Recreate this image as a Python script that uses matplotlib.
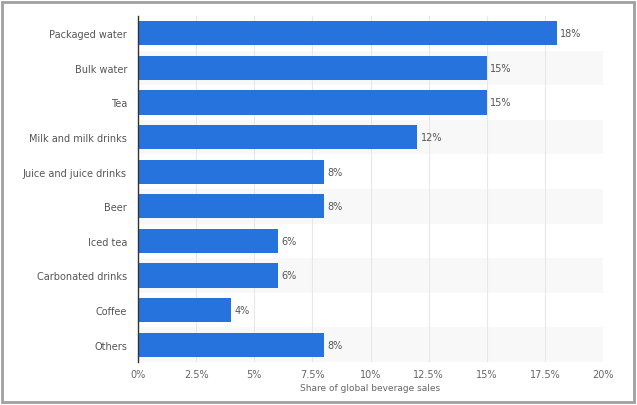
import matplotlib
matplotlib.use("Agg")
import matplotlib.pyplot as plt
from matplotlib.patches import Rectangle
from matplotlib.ticker import FuncFormatter, MultipleLocator

categories = ["Packaged water", "Bulk water", "Tea", "Milk and milk drinks",
              "Juice and juice drinks", "Beer", "Iced tea", "Carbonated drinks",
              "Coffee", "Others"]
values = [18, 15, 15, 12, 8, 8, 6, 6, 4, 8]
xlabel = "Share of global beverage sales"

W, H = 637, 406
fig = plt.figure(figsize=(W / 100, H / 100), dpi=100)
ax = fig.add_axes([138 / W, 1 - 363 / H, (603 - 138) / W, (363 - 17) / H])

n = len(categories)
ypos = list(range(n))
for i in ypos:
    if i % 2 == 1:
        ax.axhspan(i - 0.5, i + 0.5, color="#f8f8f8", zorder=0, lw=0)

ax.barh(ypos, values, height=0.7, color="#2673dd", zorder=3)
for y, v in zip(ypos, values):
    ax.text(v + 0.15, y, f"{v}%", va="center", ha="left", fontsize=7, color="#555555")

ax.set_xlim(0, 20)
ax.set_ylim(n - 0.5, -0.5)
ax.set_yticks(ypos)
ax.set_yticklabels(categories, fontsize=7, color="#555555")
ax.xaxis.set_major_locator(MultipleLocator(2.5))
ax.xaxis.set_major_formatter(FuncFormatter(lambda x, p: f"{x:g}%"))
ax.tick_params(axis="x", labelsize=7, labelcolor="#666666", length=0, pad=5)
ax.tick_params(axis="y", length=0, pad=8)
ax.grid(axis="x", color="#e8e8e8", lw=0.8, zorder=1)
ax.set_axisbelow(True)
for s in ["top", "right", "bottom"]:
    ax.spines[s].set_visible(False)
ax.spines["left"].set_color("#333333")
ax.spines["left"].set_linewidth(1.0)
ax.spines["left"].set_zorder(5)
ax.set_xlabel(xlabel, fontsize=6.5, color="#666666", labelpad=3)

fig.patches.append(Rectangle((2 / W, 3 / H), 632 / W, 400 / H, transform=fig.transFigure,
                             fill=False, edgecolor="#a0a0a0", lw=2))

fig.savefig("out.png", dpi=100)
